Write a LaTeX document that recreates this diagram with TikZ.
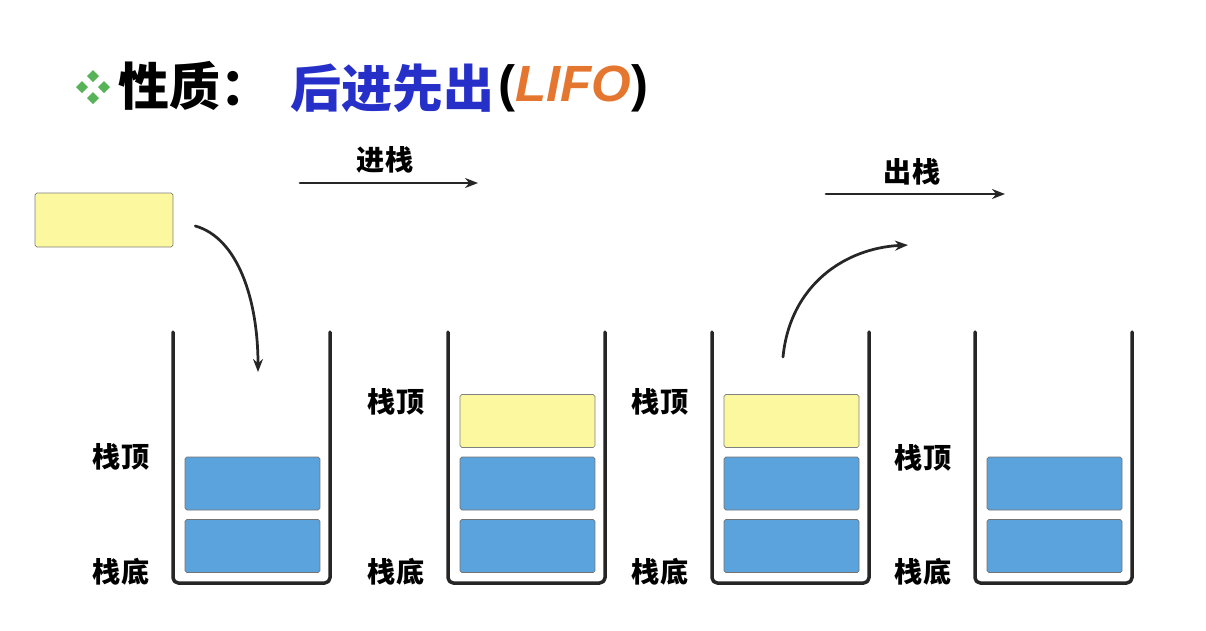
\documentclass[tikz,border=0pt]{standalone}
\usepackage{fontspec}
\newfontfamily\cjk{Noto Sans CJK SC}
\newfontfamily\latin{Liberation Sans}
\usetikzlibrary{arrows.meta,positioning,calc}

\definecolor{blockblue}{RGB}{91,163,220}
\definecolor{blockyellow}{RGB}{252,248,160}
\definecolor{titleblue}{RGB}{38,48,200}
\definecolor{lifoorange}{RGB}{228,118,48}
\definecolor{dotgreen}{RGB}{88,178,88}

\begin{document}
\begin{tikzpicture}[x=0.02cm, y=-0.02cm, >={Stealth[length=0.26cm,width=0.2cm]},
  line cap=round, line join=round,
  block/.style={draw=black!55, minimum width=2.7cm, minimum height=1.06cm, inner sep=0pt, rounded corners=1pt},
  wall/.style={line width=0.07cm, black!85, rounded corners=3pt},
  conn/.style={->, line width=0.055cm, black!85},
  tag/.style={font=\cjk\bfseries\fontsize{16}{18}\selectfont, inner sep=0pt},
  head/.style={font=\cjk\bfseries\fontsize{29}{34}\selectfont, inner sep=0pt, anchor=west}]

\useasboundingbox (0,0) rectangle (1206,630);

% title
\foreach \dx/\dy in {-11/0,11/0,0/-11,0/11}
  \fill[dotgreen] (93+\dx,87+\dy) +(0,-6) -- +(6,0) -- +(0,6) -- +(-6,0) -- cycle;
\node[head] (prop) at (118,86) {性质：};
\node[head, text=titleblue] (rule) at (290,88) {后进先出};
\node[head, font=\latin\bfseries\fontsize{29}{34}\selectfont, right=2pt of rule] (lifo) {(\textcolor{lifoorange}{\itshape LIFO})};

% the element to push
\node[block, fill=blockyellow, draw=black!50, minimum width=2.76cm, minimum height=1.08cm] (newbox) at (104,220) {};

% stacks
\foreach \x/\n/\y in {173/1/457,448/2/402,712/3/402,975/4/458}{
  \draw[wall] (\x,332) -- (\x,583) -- (\x+157,583) -- (\x+157,332);
  \node[block, fill=blockblue] (s\n-b1) at (\x+79.5,546) {};
  \node[block, fill=blockblue] (s\n-b2) at (\x+79.5,483.5) {};
  \node[tag] (s\n-bot) at (\x-52,572) {栈底};
  \node[tag] (s\n-top) at (\x-52,\y) {栈顶};
}
\foreach \x/\n in {448/2,712/3}
  \node[block, fill=blockyellow, draw=black!50] (s\n-b3) at (\x+79.5,421) {};

% push
\coordinate (push-a) at (300,183);
\coordinate (push-b) at (478,183);
\draw[conn] (push-a) -- (push-b);
\node[tag] (push-lbl) at (385,160) {进栈};
\coordinate (drop) at (258,372);
\draw[conn] ($(newbox.east)+(22,6)$) .. controls (238,238) and (258,300) .. (drop);

% pop
\coordinate (pop-a) at (826,194);
\coordinate (pop-b) at (1005,194);
\draw[conn] (pop-a) -- (pop-b);
\node[tag] (pop-lbl) at (912,172) {出栈};
\coordinate (lift) at (783,357);
\coordinate (away) at (908,245);
\draw[conn] (lift) .. controls (790,285) and (845,248) .. (away);

\end{tikzpicture}
\end{document}
